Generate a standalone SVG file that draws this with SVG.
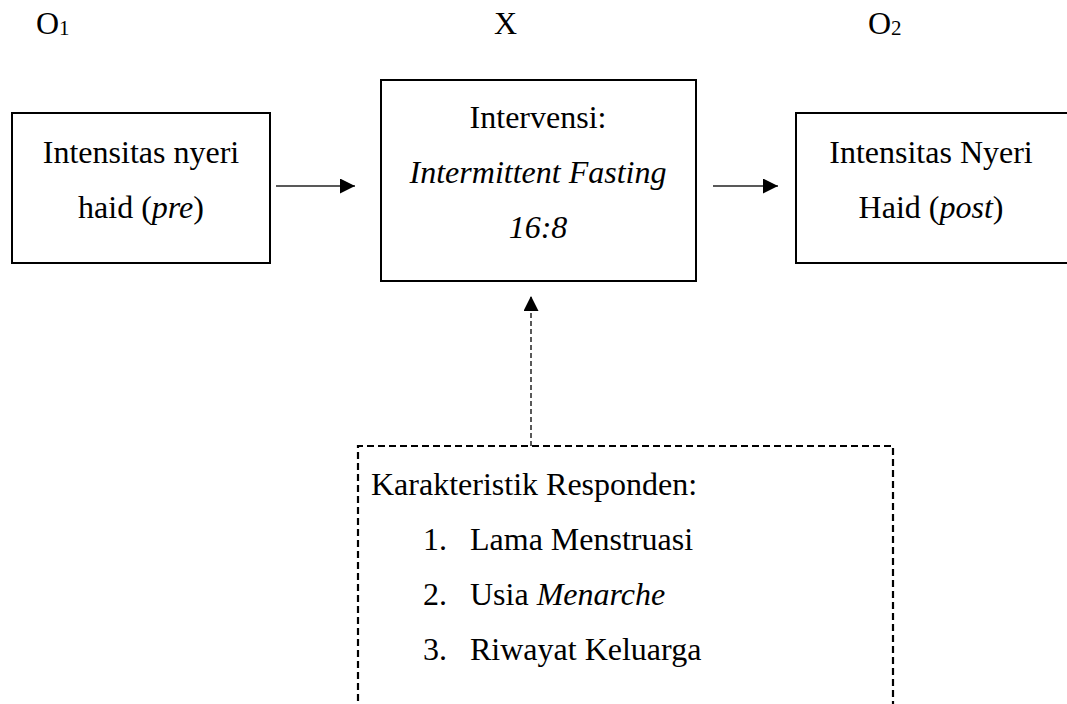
<svg xmlns="http://www.w3.org/2000/svg" width="1067" height="704" viewBox="0 0 1067 704">
<defs>
<style>
text{font-family:"Liberation Serif","Times New Roman",serif;font-size:32px;fill:#000}
.c{text-anchor:middle}
.i{font-style:italic}
.sub{font-size:21px}
.box{fill:#fff;stroke:#000;stroke-width:2}
.arr{stroke:#222;stroke-width:1.4;fill:none}
.dash{stroke:#000;stroke-width:2.2;fill:none;stroke-dasharray:7 4}
.dline{stroke:#000;stroke-width:1.3;fill:none;stroke-dasharray:5 3}
</style>
<marker id="ah" viewBox="0 0 15 15" refX="15" refY="7.5" markerWidth="15" markerHeight="15" markerUnits="userSpaceOnUse" orient="auto">
<path d="M0,0 L15,7.5 L0,15 Z" fill="#000"/>
</marker>
</defs>
<rect width="1067" height="704" fill="#fff"/>
<g id="labels">
<text x="36" y="34">O<tspan class="sub" dy="1">1</tspan></text>
<text x="494" y="34">X</text>
<text x="868" y="34">O<tspan class="sub" dy="1">2</tspan></text>
</g>
<g id="node-pre">
<rect class="box" x="12" y="113" width="258" height="150"/>
<text class="c" x="141" y="163">Intensitas nyeri</text>
<text class="c" x="141" y="218">haid (<tspan class="i">pre</tspan>)</text>
</g>
<g id="node-intervensi">
<rect class="box" x="381" y="80" width="315" height="201"/>
<text class="c" x="538" y="128">Intervensi:</text>
<text class="c i" x="538" y="183">Intermittent Fasting</text>
<text class="c i" x="538" y="238">16:8</text>
</g>
<g id="node-post">
<rect class="box" x="796" y="113" width="280" height="150"/>
<text class="c" x="931" y="163">Intensitas Nyeri</text>
<text class="c" x="931" y="218">Haid (<tspan class="i">post</tspan>)</text>
</g>
<g id="node-karakteristik">
<path class="dash" d="M358,712 V446 H893 V712"/>
<text x="371" y="495">Karakteristik Responden:</text>
<text x="423" y="550">1.</text><text x="470" y="550">Lama Menstruasi</text>
<text x="423" y="605">2.</text><text x="470" y="605">Usia <tspan class="i">Menarche</tspan></text>
<text x="423" y="660">3.</text><text x="470" y="660">Riwayat Keluarga</text>
</g>
<g id="connectors">
<line class="arr" x1="276" y1="186" x2="355" y2="186" marker-end="url(#ah)"/>
<line class="arr" x1="713" y1="186" x2="778" y2="186" marker-end="url(#ah)"/>
<line class="dline" x1="531" y1="446" x2="531" y2="296" marker-end="url(#ah)"/>
</g>
</svg>
